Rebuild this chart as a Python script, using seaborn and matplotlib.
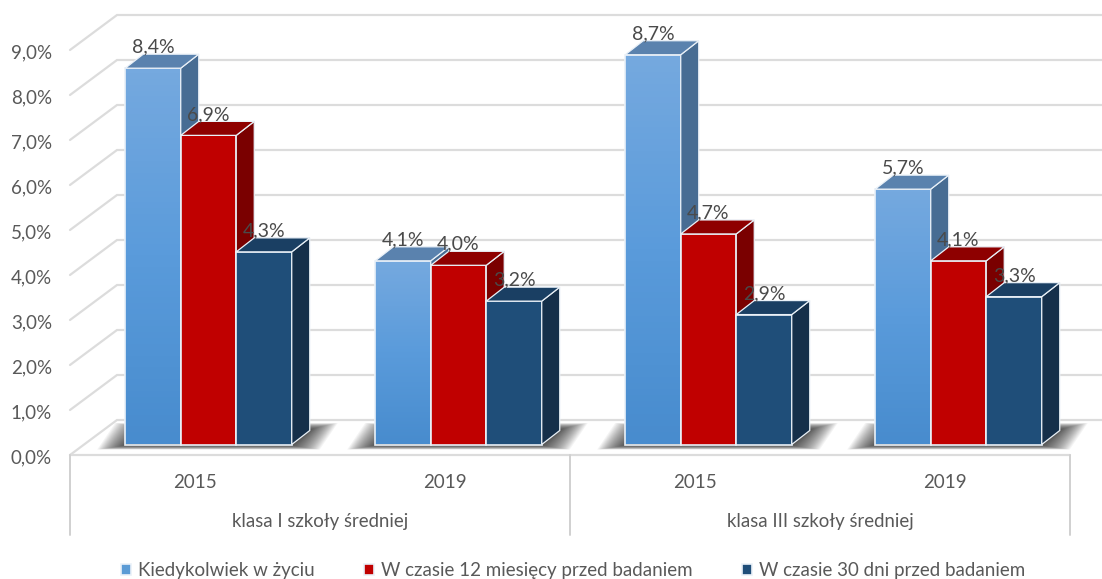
import numpy as np
import pandas as pd
import matplotlib.pyplot as plt
import seaborn as sns
from matplotlib.colors import LinearSegmentedColormap
from matplotlib.patches import Polygon

groups = ["klasa I szkoły średniej", "klasa III szkoły średniej"]
years = ["2015", "2019", "2015", "2019"]
categories = ["I 2015", "I 2019", "III 2015", "III 2019"]
series = [
    "Kiedykolwiek w życiu",
    "W czasie 12 miesięcy przed badaniem",
    "W czasie 30 dni przed badaniem",
]
ever = [8.4, 4.1, 8.7, 5.7]
last_12m = [6.9, 4.0, 4.7, 4.1]
last_30d = [4.3, 3.2, 2.9, 3.3]
y_ticks = [0, 1, 2, 3, 4, 5, 6, 7, 8, 9]

front_colors = ["#5B9BD5", "#C00000", "#1F4E79"]
top_colors = ["#5A82AE", "#8E0000", "#1A3F63"]
side_colors = ["#476C93", "#7A0000", "#152F4A"]
grid_color = "#DCDCDC"
text_color = "#595959"

# pixel scale of the picture, everything 3d is derived from these
PX_X = 250.0
PX_Y = 44.8
DX = 18 / PX_X
DY = 14 / PX_Y
WALL_DX = 47 / PX_X
WALL_DY = 35 / PX_Y
WALL_SCALE = 45 / PX_Y
FRONT_X = -0.5 - 13.5 / PX_X
FRONT_Y = -10.5 / PX_Y


def fy(v):
    """Front edge height of a value on the floor/wall."""
    return FRONT_Y + v * WALL_SCALE


df = pd.DataFrame({
    "category": categories * 3,
    "series": np.repeat(series, 4),
    "value": ever + last_12m + last_30d,
})

sns.set_style("white")
plt.rcParams["font.family"] = ["Lato", "DejaVu Sans"]

fig = plt.figure(figsize=(11.02, 5.79), dpi=100)
ax = fig.add_axes([0, 0, 1, 1])
sns.barplot(
    data=df, x="category", y="value", hue="series",
    order=categories, hue_order=series, palette=front_colors,
    width=0.666, gap=0, saturation=1, edgecolor="#EAF1F8", linewidth=1.2, ax=ax,
)
sns.move_legend(
    ax, "center", bbox_to_anchor=(0.52, 0.014), ncol=3, frameon=False, title=None,
    fontsize=13.5, labelcolor=text_color, handlelength=0.55, handleheight=0.55,
    handletextpad=0.36, columnspacing=2.62,
)
ax.axis("off")

# walls and gridlines
back_right = 3.6
for t in y_ticks:
    y0 = fy(t)
    ax.plot([FRONT_X, FRONT_X + WALL_DX, back_right], [y0, y0 + WALL_DY, y0 + WALL_DY],
            color=grid_color, lw=1.6, zorder=1, solid_joinstyle="miter")
    ax.text(FRONT_X - 18 / PX_X, y0 - 2.5 / PX_Y, f"{t},0%", ha="right", va="center",
            fontsize=13.5, color=text_color)

# front floor edge and category separators
front_right = FRONT_X + 4
ax.plot([FRONT_X, front_right], [fy(0), fy(0)], color=grid_color, lw=1.6, zorder=1)
for i in range(3):
    sep = FRONT_X + 2 * i
    ax.plot([sep, sep], [fy(0), fy(0) - 80 / PX_Y], color="#D0D0D0", lw=1.4, zorder=1)
for i, year in enumerate(years):
    ax.text(FRONT_X + i + 0.5, fy(0) - 27 / PX_Y, year, ha="center", va="center",
            fontsize=13.5, color=text_color)
for i, name in enumerate(groups):
    ax.text(FRONT_X + 2 * i + 1, fy(0) - 66 / PX_Y, name, ha="center", va="center",
            fontsize=13.4, color=text_color)

# floor shadows, soft edge from stacked polygons
for i in range(4):
    left = i - 0.333
    right = i + 0.333
    for e in np.linspace(1, 0, 30):
        ex = (1 + 27 * e**1.3) / PX_X
        ey_low = (0.5 + 4.5 * e) / PX_Y
        ey_high = (0.5 + 7 * e) / PX_Y
        pts = [(left - ex, -ey_low), (right + ex, -ey_low),
               (right + DX + ex, DY + ey_high), (left + DX - ex, DY + ey_high)]
        ax.add_patch(Polygon(pts, closed=True, fc="#383838", ec="none", alpha=0.055, zorder=2))

# 3d faces on the bars seaborn drew
bars = [p for c in ax.containers for p in c]
series_of = {id(p): k for k, c in enumerate(ax.containers) for p in c}
bars.sort(key=lambda p: p.get_x())
blue_grad = LinearSegmentedColormap.from_list("blue", ["#75A9DF", "#5A9BDB", "#488CCE"])

for n, bar in enumerate(bars):
    k = series_of[id(bar)]
    x0, x1 = bar.get_x(), bar.get_x() + bar.get_width()
    h = bar.get_height()
    z = 3 + n * 3
    bar.set_zorder(z + 0.5)
    if k == 0:
        ax.imshow(np.linspace(0, 1, 64)[:, None], cmap=blue_grad, aspect="auto",
                  extent=[x0, x1, 0, h], zorder=z, origin="upper")
        bar.set_facecolor("none")
    edge = "#EAF1F8"
    ax.add_patch(Polygon([(x1, 0), (x1 + DX, DY), (x1 + DX, h + DY), (x1, h)], closed=True,
                         fc=side_colors[k], ec=edge, lw=0.9, zorder=z + 1))
    ax.add_patch(Polygon([(x0, h), (x1, h), (x1 + DX, h + DY), (x0 + DX, h + DY)], closed=True,
                         fc=top_colors[k], ec=edge, lw=0.9, zorder=z + 1))
    ax.text((x0 + x1) / 2, h + 21 / PX_Y, f"{h:.1f}%".replace(".", ","), ha="center", va="center",
            fontsize=14, color="#4A4A4A", zorder=100)

ax.set_xlim(-0.5 - 83.5 / PX_X, -0.5 + 1018.5 / PX_X)
ax.set_ylim(-134.5 / PX_Y, 444.5 / PX_Y)

fig.savefig("out.png", dpi=100)
